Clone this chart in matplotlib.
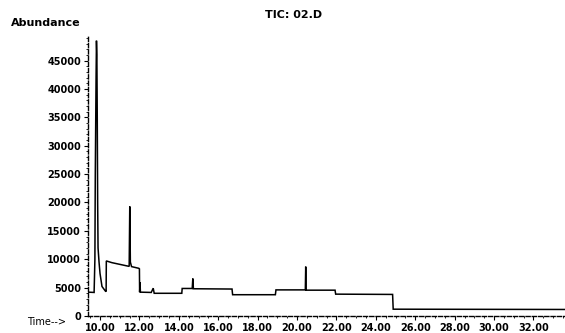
import matplotlib
matplotlib.use("Agg")
import matplotlib.pyplot as plt
from matplotlib.ticker import MultipleLocator

# Retention time (min) and abundance
time_min = [9.40, 9.70, 9.72, 9.74, 9.76, 9.80, 9.82, 9.84, 9.86, 9.88, 9.90, 9.95,
            10.00, 10.10, 10.27, 10.31, 10.32, 10.60, 11.00, 11.40, 11.48, 11.51,
            11.54, 11.60, 11.97, 12.00, 12.01, 12.03, 12.05, 12.60, 12.70, 12.75,
            14.15, 14.17, 14.68, 14.71, 14.74, 16.70, 16.73, 18.90, 18.93, 20.42,
            20.44, 20.46, 21.93, 21.96, 24.85, 24.88, 33.60]
abundance = [4200, 4150, 7000, 10000, 25000, 42000, 48500, 46000, 35000, 20000, 12000, 9500,
             7500, 5200, 4400, 4300, 9700, 9400, 9100, 8800, 8750, 19300,
             9500, 8700, 8400, 8300, 4200, 5900, 4200, 4150, 4900, 4000,
             4000, 4850, 4850, 6600, 4800, 4750, 3750, 3750, 4600, 4600,
             8700, 4550, 4550, 3850, 3800, 1200, 1150]

x_ticks = [10, 12, 14, 16, 18, 20, 22, 24, 26, 28, 30, 32]
x_labels = ["10.00", "12.00", "14.00", "16.00", "18.00", "20.00", "22.00",
            "24.00", "26.00", "28.00", "30.00", "32.00"]
y_ticks = [0, 5000, 10000, 15000, 20000, 25000, 30000, 35000, 40000, 45000]
y_labels = [str(v) for v in y_ticks]

W, H = 565, 333
fig = plt.figure(figsize=(W / 100, H / 100), dpi=100)
fig.patch.set_facecolor("white")

ax_l, ax_b, ax_t, ax_r = 88, 316, 35, 565
ax = fig.add_axes([ax_l / W, 1 - ax_b / H, (ax_r - ax_l) / W, (ax_b - ax_t) / H])

ax.plot(time_min, abundance, color="black", lw=1.1, solid_joinstyle="miter")

ax.set_xlim(9.39, 33.6)
ax.set_ylim(0, 49500)

for s in ["top", "right"]:
    ax.spines[s].set_visible(False)
for s in ["left", "bottom"]:
    ax.spines[s].set_linewidth(1.0)
    ax.spines[s].set_linestyle((0, (3, 1.5)))

ax.set_xticks(x_ticks)
ax.set_xticklabels(x_labels)
ax.set_yticks(y_ticks)
ax.set_yticklabels(y_labels)
ax.xaxis.set_minor_locator(MultipleLocator(0.5))
ax.yaxis.set_minor_locator(MultipleLocator(1000))
ax.tick_params(axis="both", which="major", direction="out", length=3, width=0.8,
               labelsize=7, pad=2)
ax.tick_params(axis="both", which="minor", direction="out", length=1.5, width=0.6)
for lbl in ax.get_xticklabels() + ax.get_yticklabels():
    lbl.set_fontweight("bold")

fig.text(294 / W, 1 - 15 / H, "TIC: 02.D", ha="center", va="center", fontsize=8,
         fontweight="bold")
fig.text(11 / W, 1 - 23 / H, "Abundance", ha="left", va="center", fontsize=8,
         fontweight="bold")
fig.text(27 / W, 1 - 322 / H, "Time-->", ha="left", va="center", fontsize=7)

fig.savefig("out.png", dpi=100, facecolor="white")
